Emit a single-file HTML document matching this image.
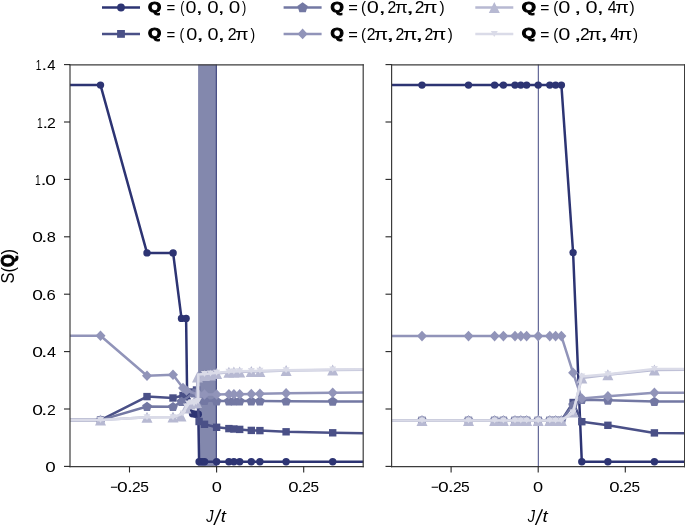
<!DOCTYPE html>
<html><head><meta charset="utf-8"><style>
html,body{margin:0;padding:0;background:#fff;width:685px;height:525px;overflow:hidden;}
svg{display:block;font-family:"Liberation Sans",sans-serif;will-change:transform;}
</style></head><body><svg width="685" height="525" viewBox="0 0 685 525"><defs><clipPath id="cl"><rect x="70" y="64.5" width="293.3" height="402"/></clipPath><clipPath id="cr"><rect x="391.5" y="64.5" width="293" height="402"/></clipPath></defs><rect x="198.1" y="64.5" width="18.4" height="402" fill="#2D3473" fill-opacity="0.59"/><line x1="216.3" y1="64.5" x2="216.3" y2="466.4" stroke="#2D3473" stroke-width="1"/><line x1="538.3" y1="64.5" x2="538.3" y2="466.4" stroke="#2D3473" stroke-width="1" stroke-opacity="0.9"/><g clip-path="url(#cl)"><polyline points="42.7,85.1 100.5,85.1 147.0,252.9 173.1,252.9 181.5,318.4 186.1,318.4 187.2,400.0 192.5,413.8 195.5,414.3 198.3,414.3 199.1,461.8 202.0,461.8 204.6,461.8 216.6,461.8 228.9,461.8 233.9,461.8 239.7,461.8 251.3,461.8 259.9,461.8 286.1,461.8 332.7,461.8 390.3,461.8" fill="none" stroke="#2D3473" stroke-width="2.5" stroke-linejoin="round"/><circle cx="100.5" cy="85.1" r="3.7" fill="#2D3473"/><circle cx="147.0" cy="252.9" r="3.7" fill="#2D3473"/><circle cx="173.1" cy="252.9" r="3.7" fill="#2D3473"/><circle cx="181.5" cy="318.4" r="3.7" fill="#2D3473"/><circle cx="186.1" cy="318.4" r="3.7" fill="#2D3473"/><circle cx="187.2" cy="400.0" r="3.7" fill="#2D3473"/><circle cx="192.5" cy="413.8" r="3.7" fill="#2D3473"/><circle cx="195.5" cy="414.3" r="3.7" fill="#2D3473"/><circle cx="198.3" cy="414.3" r="3.7" fill="#2D3473"/><circle cx="199.1" cy="461.8" r="3.7" fill="#2D3473"/><circle cx="202.0" cy="461.8" r="3.7" fill="#2D3473"/><circle cx="204.6" cy="461.8" r="3.7" fill="#2D3473"/><circle cx="216.6" cy="461.8" r="3.7" fill="#2D3473"/><circle cx="228.9" cy="461.8" r="3.7" fill="#2D3473"/><circle cx="233.9" cy="461.8" r="3.7" fill="#2D3473"/><circle cx="239.7" cy="461.8" r="3.7" fill="#2D3473"/><circle cx="251.3" cy="461.8" r="3.7" fill="#2D3473"/><circle cx="259.9" cy="461.8" r="3.7" fill="#2D3473"/><circle cx="286.1" cy="461.8" r="3.7" fill="#2D3473"/><circle cx="332.7" cy="461.8" r="3.7" fill="#2D3473"/><polyline points="42.7,420.1 100.5,420.1 147.0,396.6 173.0,398.0 183.0,395.5 190.0,392.0 196.5,390.0 199.1,421.5 204.5,424.3 216.6,427.3 228.9,428.6 233.9,429.0 239.7,429.4 251.3,430.4 259.9,430.6 286.1,431.8 332.7,432.8 390.3,433.4" fill="none" stroke="#4A5087" stroke-width="2.5" stroke-linejoin="round"/><rect x="96.8" y="416.4" width="7.4" height="7.4" fill="#4A5087"/><rect x="143.3" y="392.9" width="7.4" height="7.4" fill="#4A5087"/><rect x="169.3" y="394.3" width="7.4" height="7.4" fill="#4A5087"/><rect x="179.3" y="391.8" width="7.4" height="7.4" fill="#4A5087"/><rect x="186.3" y="388.3" width="7.4" height="7.4" fill="#4A5087"/><rect x="192.8" y="386.3" width="7.4" height="7.4" fill="#4A5087"/><rect x="195.4" y="417.8" width="7.4" height="7.4" fill="#4A5087"/><rect x="200.8" y="420.6" width="7.4" height="7.4" fill="#4A5087"/><rect x="212.9" y="423.6" width="7.4" height="7.4" fill="#4A5087"/><rect x="225.2" y="424.9" width="7.4" height="7.4" fill="#4A5087"/><rect x="230.2" y="425.3" width="7.4" height="7.4" fill="#4A5087"/><rect x="236.0" y="425.7" width="7.4" height="7.4" fill="#4A5087"/><rect x="247.6" y="426.7" width="7.4" height="7.4" fill="#4A5087"/><rect x="256.2" y="426.9" width="7.4" height="7.4" fill="#4A5087"/><rect x="282.4" y="428.1" width="7.4" height="7.4" fill="#4A5087"/><rect x="329.0" y="429.1" width="7.4" height="7.4" fill="#4A5087"/><polyline points="42.7,420.1 100.5,420.1 147.0,406.5 173.0,406.7 181.5,401.5 194.0,393.0 199.1,399.0 204.5,400.5 216.6,401.0 228.9,401.0 233.9,401.0 239.7,401.0 251.3,401.0 259.9,401.0 286.1,401.2 332.7,401.4 390.3,401.4" fill="none" stroke="#7378A3" stroke-width="2.5" stroke-linejoin="round"/><polygon points="100.5,415.3 105.4,418.8 103.5,424.5 97.5,424.5 95.6,418.8" fill="#7378A3"/><polygon points="147.0,401.7 151.9,405.2 150.0,410.9 144.0,410.9 142.1,405.2" fill="#7378A3"/><polygon points="173.0,401.9 177.9,405.4 176.0,411.1 170.0,411.1 168.1,405.4" fill="#7378A3"/><polygon points="181.5,396.7 186.4,400.2 184.5,405.9 178.5,405.9 176.6,400.2" fill="#7378A3"/><polygon points="194.0,388.2 198.9,391.7 197.0,397.4 191.0,397.4 189.1,391.7" fill="#7378A3"/><polygon points="199.1,394.2 204.0,397.7 202.1,403.4 196.1,403.4 194.2,397.7" fill="#7378A3"/><polygon points="204.5,395.7 209.4,399.2 207.5,404.9 201.5,404.9 199.6,399.2" fill="#7378A3"/><polygon points="216.6,396.2 221.5,399.7 219.6,405.4 213.6,405.4 211.7,399.7" fill="#7378A3"/><polygon points="228.9,396.2 233.8,399.7 231.9,405.4 225.9,405.4 224.0,399.7" fill="#7378A3"/><polygon points="233.9,396.2 238.8,399.7 236.9,405.4 230.9,405.4 229.0,399.7" fill="#7378A3"/><polygon points="239.7,396.2 244.6,399.7 242.7,405.4 236.7,405.4 234.8,399.7" fill="#7378A3"/><polygon points="251.3,396.2 256.2,399.7 254.3,405.4 248.3,405.4 246.4,399.7" fill="#7378A3"/><polygon points="259.9,396.2 264.8,399.7 262.9,405.4 256.9,405.4 255.0,399.7" fill="#7378A3"/><polygon points="286.1,396.4 291.0,399.9 289.1,405.6 283.1,405.6 281.2,399.9" fill="#7378A3"/><polygon points="332.7,396.6 337.6,400.1 335.7,405.8 329.7,405.8 327.8,400.1" fill="#7378A3"/><polyline points="42.7,335.7 100.5,335.7 147.0,375.7 173.0,374.8 183.0,388.0 186.5,390.5 199.1,395.0 204.5,394.5 216.6,394.5 228.9,394.3 233.9,394.3 239.7,394.2 251.3,394.0 259.9,393.8 286.1,393.2 332.7,392.7 390.3,392.3" fill="none" stroke="#9194B9" stroke-width="2.5" stroke-linejoin="round"/><polygon points="100.5,330.4 105.5,335.7 100.5,341.0 95.5,335.7" fill="#9194B9"/><polygon points="147.0,370.4 152.0,375.7 147.0,381.0 142.0,375.7" fill="#9194B9"/><polygon points="173.0,369.5 178.0,374.8 173.0,380.1 168.0,374.8" fill="#9194B9"/><polygon points="183.0,382.7 188.0,388.0 183.0,393.3 178.0,388.0" fill="#9194B9"/><polygon points="186.5,385.2 191.5,390.5 186.5,395.8 181.5,390.5" fill="#9194B9"/><polygon points="199.1,389.7 204.1,395.0 199.1,400.3 194.1,395.0" fill="#9194B9"/><polygon points="204.5,389.2 209.5,394.5 204.5,399.8 199.5,394.5" fill="#9194B9"/><polygon points="216.6,389.2 221.6,394.5 216.6,399.8 211.6,394.5" fill="#9194B9"/><polygon points="228.9,389.0 233.9,394.3 228.9,399.6 223.9,394.3" fill="#9194B9"/><polygon points="233.9,389.0 238.9,394.3 233.9,399.6 228.9,394.3" fill="#9194B9"/><polygon points="239.7,388.9 244.7,394.2 239.7,399.5 234.7,394.2" fill="#9194B9"/><polygon points="251.3,388.7 256.3,394.0 251.3,399.3 246.3,394.0" fill="#9194B9"/><polygon points="259.9,388.5 264.9,393.8 259.9,399.1 254.9,393.8" fill="#9194B9"/><polygon points="286.1,387.9 291.1,393.2 286.1,398.5 281.1,393.2" fill="#9194B9"/><polygon points="332.7,387.4 337.7,392.7 332.7,398.0 327.7,392.7" fill="#9194B9"/><polyline points="42.7,420.1 100.5,420.1 147.0,417.3 173.0,417.0 181.0,416.0 186.0,408.0 190.0,404.0 193.5,403.0 196.5,402.5 197.5,377.0 204.5,375.5 210.5,375.0 216.6,373.5 228.9,372.2 233.9,372.0 239.7,372.0 251.3,371.6 259.9,371.4 286.1,370.4 332.7,370.0 390.3,369.6" fill="none" stroke="#B7B9D2" stroke-width="2.5" stroke-linejoin="round"/><polygon points="100.5,414.6 106.0,425.6 95.0,425.6" fill="#B7B9D2"/><polygon points="147.0,411.8 152.5,422.8 141.5,422.8" fill="#B7B9D2"/><polygon points="173.0,411.5 178.5,422.5 167.5,422.5" fill="#B7B9D2"/><polygon points="181.0,410.5 186.5,421.5 175.5,421.5" fill="#B7B9D2"/><polygon points="186.0,402.5 191.5,413.5 180.5,413.5" fill="#B7B9D2"/><polygon points="190.0,398.5 195.5,409.5 184.5,409.5" fill="#B7B9D2"/><polygon points="193.5,397.5 199.0,408.5 188.0,408.5" fill="#B7B9D2"/><polygon points="196.5,397.0 202.0,408.0 191.0,408.0" fill="#B7B9D2"/><polygon points="197.5,371.5 203.0,382.5 192.0,382.5" fill="#B7B9D2"/><polygon points="204.5,370.0 210.0,381.0 199.0,381.0" fill="#B7B9D2"/><polygon points="210.5,369.5 216.0,380.5 205.0,380.5" fill="#B7B9D2"/><polygon points="216.6,368.0 222.1,379.0 211.1,379.0" fill="#B7B9D2"/><polygon points="228.9,366.7 234.4,377.7 223.4,377.7" fill="#B7B9D2"/><polygon points="233.9,366.5 239.4,377.5 228.4,377.5" fill="#B7B9D2"/><polygon points="239.7,366.5 245.2,377.5 234.2,377.5" fill="#B7B9D2"/><polygon points="251.3,366.1 256.8,377.1 245.8,377.1" fill="#B7B9D2"/><polygon points="259.9,365.9 265.4,376.9 254.4,376.9" fill="#B7B9D2"/><polygon points="286.1,364.9 291.6,375.9 280.6,375.9" fill="#B7B9D2"/><polygon points="332.7,364.5 338.2,375.5 327.2,375.5" fill="#B7B9D2"/><polyline points="42.7,420.1 100.5,420.1 147.0,417.3 173.0,417.3 183.0,413.5 186.5,406.5 188.5,403.5 191.0,402.5 194.0,403.5 196.5,402.0 198.3,401.0 198.3,374.5 204.5,374.0 210.5,373.5 216.6,372.8 228.9,371.8 233.9,371.5 239.7,371.3 251.3,371.0 259.9,370.7 286.1,370.3 332.7,369.6 390.3,369.0" fill="none" stroke="#DADBE8" stroke-width="2.5" stroke-linejoin="round"/><polygon points="97.0,417.1 104.0,417.1 100.5,423.1" fill="#DADBE8"/><polygon points="143.5,414.3 150.5,414.3 147.0,420.3" fill="#DADBE8"/><polygon points="169.5,414.3 176.5,414.3 173.0,420.3" fill="#DADBE8"/><polygon points="179.5,410.5 186.5,410.5 183.0,416.5" fill="#DADBE8"/><polygon points="183.0,403.5 190.0,403.5 186.5,409.5" fill="#DADBE8"/><polygon points="185.0,400.5 192.0,400.5 188.5,406.5" fill="#DADBE8"/><polygon points="187.5,399.5 194.5,399.5 191.0,405.5" fill="#DADBE8"/><polygon points="190.5,400.5 197.5,400.5 194.0,406.5" fill="#DADBE8"/><polygon points="193.0,399.0 200.0,399.0 196.5,405.0" fill="#DADBE8"/><polygon points="194.8,398.0 201.8,398.0 198.3,404.0" fill="#DADBE8"/><polygon points="201.0,371.0 208.0,371.0 204.5,377.0" fill="#DADBE8"/><polygon points="207.0,370.5 214.0,370.5 210.5,376.5" fill="#DADBE8"/><polygon points="213.1,369.8 220.1,369.8 216.6,375.8" fill="#DADBE8"/><polygon points="225.4,368.8 232.4,368.8 228.9,374.8" fill="#DADBE8"/><polygon points="230.4,368.5 237.4,368.5 233.9,374.5" fill="#DADBE8"/><polygon points="236.2,368.3 243.2,368.3 239.7,374.3" fill="#DADBE8"/><polygon points="247.8,368.0 254.8,368.0 251.3,374.0" fill="#DADBE8"/><polygon points="256.4,367.7 263.4,367.7 259.9,373.7" fill="#DADBE8"/><polygon points="282.6,367.3 289.6,367.3 286.1,373.3" fill="#DADBE8"/><polygon points="329.2,366.6 336.2,366.6 332.7,372.6" fill="#DADBE8"/></g><g clip-path="url(#cr)"><polyline points="364.0,85.1 422.0,85.1 468.5,85.1 494.6,85.1 503.4,85.1 515.0,85.1 520.8,85.1 526.6,85.1 538.2,85.1 549.8,85.1 555.6,85.1 561.4,85.1 573.1,252.6 581.8,461.8 607.9,461.8 654.4,461.8 712.5,461.8" fill="none" stroke="#2D3473" stroke-width="2.5" stroke-linejoin="round"/><circle cx="422.0" cy="85.1" r="3.7" fill="#2D3473"/><circle cx="468.5" cy="85.1" r="3.7" fill="#2D3473"/><circle cx="494.6" cy="85.1" r="3.7" fill="#2D3473"/><circle cx="503.4" cy="85.1" r="3.7" fill="#2D3473"/><circle cx="515.0" cy="85.1" r="3.7" fill="#2D3473"/><circle cx="520.8" cy="85.1" r="3.7" fill="#2D3473"/><circle cx="526.6" cy="85.1" r="3.7" fill="#2D3473"/><circle cx="538.2" cy="85.1" r="3.7" fill="#2D3473"/><circle cx="549.8" cy="85.1" r="3.7" fill="#2D3473"/><circle cx="555.6" cy="85.1" r="3.7" fill="#2D3473"/><circle cx="561.4" cy="85.1" r="3.7" fill="#2D3473"/><circle cx="573.1" cy="252.6" r="3.7" fill="#2D3473"/><circle cx="581.8" cy="461.8" r="3.7" fill="#2D3473"/><circle cx="607.9" cy="461.8" r="3.7" fill="#2D3473"/><circle cx="654.4" cy="461.8" r="3.7" fill="#2D3473"/><polyline points="364.0,420.4 422.0,420.4 468.5,420.4 494.6,420.4 503.4,420.4 515.0,420.4 520.8,420.4 526.6,420.4 538.2,420.4 549.8,420.4 555.6,420.4 561.4,420.4 573.1,402.5 581.8,421.7 607.9,425.3 654.4,432.9 712.5,433.6" fill="none" stroke="#4A5087" stroke-width="2.5" stroke-linejoin="round"/><rect x="418.3" y="416.7" width="7.4" height="7.4" fill="#4A5087"/><rect x="464.8" y="416.7" width="7.4" height="7.4" fill="#4A5087"/><rect x="490.9" y="416.7" width="7.4" height="7.4" fill="#4A5087"/><rect x="499.7" y="416.7" width="7.4" height="7.4" fill="#4A5087"/><rect x="511.3" y="416.7" width="7.4" height="7.4" fill="#4A5087"/><rect x="517.1" y="416.7" width="7.4" height="7.4" fill="#4A5087"/><rect x="522.9" y="416.7" width="7.4" height="7.4" fill="#4A5087"/><rect x="534.5" y="416.7" width="7.4" height="7.4" fill="#4A5087"/><rect x="546.1" y="416.7" width="7.4" height="7.4" fill="#4A5087"/><rect x="551.9" y="416.7" width="7.4" height="7.4" fill="#4A5087"/><rect x="557.7" y="416.7" width="7.4" height="7.4" fill="#4A5087"/><rect x="569.4" y="398.8" width="7.4" height="7.4" fill="#4A5087"/><rect x="578.1" y="418.0" width="7.4" height="7.4" fill="#4A5087"/><rect x="604.2" y="421.6" width="7.4" height="7.4" fill="#4A5087"/><rect x="650.7" y="429.2" width="7.4" height="7.4" fill="#4A5087"/><polyline points="364.0,420.4 422.0,420.4 468.5,420.4 494.6,420.4 503.4,420.4 515.0,420.4 520.8,420.4 526.6,420.4 538.2,420.4 549.8,420.4 555.6,420.4 561.4,420.4 573.1,405.0 581.8,399.7 607.9,400.3 654.4,401.6 712.5,401.2" fill="none" stroke="#7378A3" stroke-width="2.5" stroke-linejoin="round"/><polygon points="422.0,415.6 426.9,419.1 425.0,424.8 419.0,424.8 417.2,419.1" fill="#7378A3"/><polygon points="468.5,415.6 473.4,419.1 471.5,424.8 465.5,424.8 463.6,419.1" fill="#7378A3"/><polygon points="494.6,415.6 499.5,419.1 497.6,424.8 491.6,424.8 489.8,419.1" fill="#7378A3"/><polygon points="503.4,415.6 508.2,419.1 506.3,424.8 500.4,424.8 498.5,419.1" fill="#7378A3"/><polygon points="515.0,415.6 519.8,419.1 518.0,424.8 512.0,424.8 510.1,419.1" fill="#7378A3"/><polygon points="520.8,415.6 525.6,419.1 523.8,424.8 517.8,424.8 515.9,419.1" fill="#7378A3"/><polygon points="526.6,415.6 531.4,419.1 529.6,424.8 523.6,424.8 521.7,419.1" fill="#7378A3"/><polygon points="538.2,415.6 543.1,419.1 541.2,424.8 535.2,424.8 533.3,419.1" fill="#7378A3"/><polygon points="549.8,415.6 554.7,419.1 552.8,424.8 546.8,424.8 545.0,419.1" fill="#7378A3"/><polygon points="555.6,415.6 560.5,419.1 558.6,424.8 552.6,424.8 550.8,419.1" fill="#7378A3"/><polygon points="561.4,415.6 566.3,419.1 564.4,424.8 558.4,424.8 556.6,419.1" fill="#7378A3"/><polygon points="573.1,400.2 577.9,403.7 576.0,409.4 570.1,409.4 568.2,403.7" fill="#7378A3"/><polygon points="581.8,394.9 586.6,398.4 584.8,404.1 578.8,404.1 576.9,398.4" fill="#7378A3"/><polygon points="607.9,395.5 612.8,399.0 610.9,404.7 604.9,404.7 603.0,399.0" fill="#7378A3"/><polygon points="654.4,396.8 659.2,400.3 657.4,406.0 651.4,406.0 649.5,400.3" fill="#7378A3"/><polyline points="364.0,336.1 422.0,336.1 468.5,336.1 494.6,336.1 503.4,336.1 515.0,336.1 520.8,336.1 526.6,336.1 538.2,336.1 549.8,336.1 555.6,336.1 561.4,336.1 573.1,372.8 581.8,398.5 607.9,396.3 654.4,392.8 712.5,392.5" fill="none" stroke="#9194B9" stroke-width="2.5" stroke-linejoin="round"/><polygon points="422.0,330.8 427.0,336.1 422.0,341.4 417.0,336.1" fill="#9194B9"/><polygon points="468.5,330.8 473.5,336.1 468.5,341.4 463.5,336.1" fill="#9194B9"/><polygon points="494.6,330.8 499.6,336.1 494.6,341.4 489.6,336.1" fill="#9194B9"/><polygon points="503.4,330.8 508.4,336.1 503.4,341.4 498.4,336.1" fill="#9194B9"/><polygon points="515.0,330.8 520.0,336.1 515.0,341.4 510.0,336.1" fill="#9194B9"/><polygon points="520.8,330.8 525.8,336.1 520.8,341.4 515.8,336.1" fill="#9194B9"/><polygon points="526.6,330.8 531.6,336.1 526.6,341.4 521.6,336.1" fill="#9194B9"/><polygon points="538.2,330.8 543.2,336.1 538.2,341.4 533.2,336.1" fill="#9194B9"/><polygon points="549.8,330.8 554.8,336.1 549.8,341.4 544.8,336.1" fill="#9194B9"/><polygon points="555.6,330.8 560.6,336.1 555.6,341.4 550.6,336.1" fill="#9194B9"/><polygon points="561.4,330.8 566.4,336.1 561.4,341.4 556.4,336.1" fill="#9194B9"/><polygon points="573.1,367.5 578.1,372.8 573.1,378.1 568.1,372.8" fill="#9194B9"/><polygon points="581.8,393.2 586.8,398.5 581.8,403.8 576.8,398.5" fill="#9194B9"/><polygon points="607.9,391.0 612.9,396.3 607.9,401.6 602.9,396.3" fill="#9194B9"/><polygon points="654.4,387.5 659.4,392.8 654.4,398.1 649.4,392.8" fill="#9194B9"/><polyline points="364.0,420.4 422.0,420.4 468.5,420.4 494.6,420.4 503.4,420.4 515.0,420.4 520.8,420.4 526.6,420.4 538.2,420.4 549.8,420.4 555.6,420.4 561.4,420.4 573.1,412.0 581.8,378.0 607.9,374.7 654.4,370.0 712.5,369.5" fill="none" stroke="#B7B9D2" stroke-width="2.5" stroke-linejoin="round"/><polygon points="422.0,414.9 427.5,425.9 416.5,425.9" fill="#B7B9D2"/><polygon points="468.5,414.9 474.0,425.9 463.0,425.9" fill="#B7B9D2"/><polygon points="494.6,414.9 500.1,425.9 489.1,425.9" fill="#B7B9D2"/><polygon points="503.4,414.9 508.9,425.9 497.9,425.9" fill="#B7B9D2"/><polygon points="515.0,414.9 520.5,425.9 509.5,425.9" fill="#B7B9D2"/><polygon points="520.8,414.9 526.3,425.9 515.3,425.9" fill="#B7B9D2"/><polygon points="526.6,414.9 532.1,425.9 521.1,425.9" fill="#B7B9D2"/><polygon points="538.2,414.9 543.7,425.9 532.7,425.9" fill="#B7B9D2"/><polygon points="549.8,414.9 555.3,425.9 544.3,425.9" fill="#B7B9D2"/><polygon points="555.6,414.9 561.1,425.9 550.1,425.9" fill="#B7B9D2"/><polygon points="561.4,414.9 566.9,425.9 555.9,425.9" fill="#B7B9D2"/><polygon points="573.1,406.5 578.6,417.5 567.6,417.5" fill="#B7B9D2"/><polygon points="581.8,372.5 587.3,383.5 576.3,383.5" fill="#B7B9D2"/><polygon points="607.9,369.2 613.4,380.2 602.4,380.2" fill="#B7B9D2"/><polygon points="654.4,364.5 659.9,375.5 648.9,375.5" fill="#B7B9D2"/><polyline points="364.0,420.4 422.0,420.4 468.5,420.4 494.6,420.4 503.4,420.4 515.0,420.4 520.8,420.4 526.6,420.4 538.2,420.4 549.8,420.4 555.6,420.4 561.4,420.4 573.1,412.6 581.8,376.6 607.9,374.3 654.4,369.0 712.5,368.8" fill="none" stroke="#DADBE8" stroke-width="2.5" stroke-linejoin="round"/><polygon points="418.5,417.4 425.5,417.4 422.0,423.4" fill="#DADBE8"/><polygon points="465.0,417.4 472.0,417.4 468.5,423.4" fill="#DADBE8"/><polygon points="491.1,417.4 498.1,417.4 494.6,423.4" fill="#DADBE8"/><polygon points="499.9,417.4 506.9,417.4 503.4,423.4" fill="#DADBE8"/><polygon points="511.5,417.4 518.5,417.4 515.0,423.4" fill="#DADBE8"/><polygon points="517.3,417.4 524.3,417.4 520.8,423.4" fill="#DADBE8"/><polygon points="523.1,417.4 530.1,417.4 526.6,423.4" fill="#DADBE8"/><polygon points="534.7,417.4 541.7,417.4 538.2,423.4" fill="#DADBE8"/><polygon points="546.3,417.4 553.3,417.4 549.8,423.4" fill="#DADBE8"/><polygon points="552.1,417.4 559.1,417.4 555.6,423.4" fill="#DADBE8"/><polygon points="557.9,417.4 564.9,417.4 561.4,423.4" fill="#DADBE8"/><polygon points="569.6,409.6 576.6,409.6 573.1,415.6" fill="#DADBE8"/><polygon points="578.3,373.6 585.3,373.6 581.8,379.6" fill="#DADBE8"/><polygon points="604.4,371.3 611.4,371.3 607.9,377.3" fill="#DADBE8"/><polygon points="650.9,366.0 657.9,366.0 654.4,372.0" fill="#DADBE8"/></g><line x1="69.4" y1="64.8" x2="363.8" y2="64.8" stroke="#3c3c3c" stroke-width="1.2"/><line x1="69.4" y1="466.6" x2="363.8" y2="466.6" stroke="#3c3c3c" stroke-width="1.2"/><line x1="70.0" y1="64.2" x2="70.0" y2="467.2" stroke="#3c3c3c" stroke-width="1.2"/><line x1="363.2" y1="64.2" x2="363.2" y2="467.2" stroke="#3c3c3c" stroke-width="1.2"/><line x1="64.0" y1="466.4" x2="70.0" y2="466.4" stroke="#262626" stroke-width="1.1"/><line x1="64.0" y1="409.0" x2="70.0" y2="409.0" stroke="#262626" stroke-width="1.1"/><line x1="64.0" y1="351.6" x2="70.0" y2="351.6" stroke="#262626" stroke-width="1.1"/><line x1="64.0" y1="294.2" x2="70.0" y2="294.2" stroke="#262626" stroke-width="1.1"/><line x1="64.0" y1="236.8" x2="70.0" y2="236.8" stroke="#262626" stroke-width="1.1"/><line x1="64.0" y1="179.4" x2="70.0" y2="179.4" stroke="#262626" stroke-width="1.1"/><line x1="64.0" y1="122.0" x2="70.0" y2="122.0" stroke="#262626" stroke-width="1.1"/><line x1="64.0" y1="64.6" x2="70.0" y2="64.6" stroke="#262626" stroke-width="1.1"/><line x1="391.0" y1="64.8" x2="685.2" y2="64.8" stroke="#3c3c3c" stroke-width="1.2"/><line x1="391.0" y1="466.6" x2="685.2" y2="466.6" stroke="#3c3c3c" stroke-width="1.2"/><line x1="391.6" y1="64.2" x2="391.6" y2="467.2" stroke="#3c3c3c" stroke-width="1.2"/><line x1="684.6" y1="64.2" x2="684.6" y2="467.2" stroke="#3c3c3c" stroke-width="1.2"/><line x1="385.5" y1="466.4" x2="391.5" y2="466.4" stroke="#262626" stroke-width="1.1"/><line x1="385.5" y1="409.0" x2="391.5" y2="409.0" stroke="#262626" stroke-width="1.1"/><line x1="385.5" y1="351.6" x2="391.5" y2="351.6" stroke="#262626" stroke-width="1.1"/><line x1="385.5" y1="294.2" x2="391.5" y2="294.2" stroke="#262626" stroke-width="1.1"/><line x1="385.5" y1="236.8" x2="391.5" y2="236.8" stroke="#262626" stroke-width="1.1"/><line x1="385.5" y1="179.4" x2="391.5" y2="179.4" stroke="#262626" stroke-width="1.1"/><line x1="385.5" y1="122.0" x2="391.5" y2="122.0" stroke="#262626" stroke-width="1.1"/><line x1="385.5" y1="64.6" x2="391.5" y2="64.6" stroke="#262626" stroke-width="1.1"/><line x1="129.5" y1="466.5" x2="129.5" y2="472.5" stroke="#262626" stroke-width="1.1"/><line x1="216.6" y1="466.5" x2="216.6" y2="472.5" stroke="#262626" stroke-width="1.1"/><line x1="303.7" y1="466.5" x2="303.7" y2="472.5" stroke="#262626" stroke-width="1.1"/><line x1="451.1" y1="466.5" x2="451.1" y2="472.5" stroke="#262626" stroke-width="1.1"/><line x1="538.2" y1="466.5" x2="538.2" y2="472.5" stroke="#262626" stroke-width="1.1"/><line x1="625.3" y1="466.5" x2="625.3" y2="472.5" stroke="#262626" stroke-width="1.1"/><g font-family="Liberation Sans, sans-serif" fill="#000"><text id="lq00" x="148.00" y="11.8" font-size="15" textLength="13.26" lengthAdjust="spacingAndGlyphs" font-weight="bold" stroke="#000" stroke-width="1.0">Q</text><text id="lq01" x="148.00" y="38.2" font-size="15" textLength="13.26" lengthAdjust="spacingAndGlyphs" font-weight="bold" stroke="#000" stroke-width="1.0">Q</text><text id="lq10" x="330.40" y="11.8" font-size="15" textLength="13.26" lengthAdjust="spacingAndGlyphs" font-weight="bold" stroke="#000" stroke-width="1.0">Q</text><text id="lq11" x="330.40" y="38.2" font-size="15" textLength="13.26" lengthAdjust="spacingAndGlyphs" font-weight="bold" stroke="#000" stroke-width="1.0">Q</text><text id="lq20" x="521.80" y="11.8" font-size="15" textLength="14.18" lengthAdjust="spacingAndGlyphs" font-weight="bold" stroke="#000" stroke-width="1.0">Q</text><text id="lq21" x="521.80" y="38.2" font-size="15" textLength="14.18" lengthAdjust="spacingAndGlyphs" font-weight="bold" stroke="#000" stroke-width="1.0">Q</text><text transform="translate(35.84,70.10) scale(0.665,1)" font-size="15" >1</text><text transform="translate(41.38,70.10) scale(1.330,1)" font-size="15" >.</text><text transform="translate(47.26,70.10) scale(0.992,1)" font-size="15" >4</text><text transform="translate(36.92,127.50) scale(0.680,1)" font-size="15" >1</text><text transform="translate(42.48,127.50) scale(1.330,1)" font-size="15" >.</text><text transform="translate(47.11,127.50) scale(1.054,1)" font-size="15" >2</text><text transform="translate(35.02,184.90) scale(0.680,1)" font-size="15" >1</text><text transform="translate(40.39,184.90) scale(1.470,1)" font-size="15" >.</text><text transform="translate(45.26,184.90) scale(1.269,1)" font-size="15" >0</text><text transform="translate(32.35,242.30) scale(1.283,1)" font-size="15" >0</text><text transform="translate(40.99,242.30) scale(1.540,1)" font-size="15" >.</text><text transform="translate(46.69,242.30) scale(1.094,1)" font-size="15" >8</text><text transform="translate(32.35,299.70) scale(1.283,1)" font-size="15" >0</text><text transform="translate(40.99,299.70) scale(1.540,1)" font-size="15" >.</text><text transform="translate(46.55,299.70) scale(1.112,1)" font-size="15" >6</text><text transform="translate(32.35,357.10) scale(1.283,1)" font-size="15" >0</text><text transform="translate(40.99,357.10) scale(1.540,1)" font-size="15" >.</text><text transform="translate(47.03,357.10) scale(1.085,1)" font-size="15" >4</text><text transform="translate(32.35,414.50) scale(1.283,1)" font-size="15" >0</text><text transform="translate(40.99,414.50) scale(1.540,1)" font-size="15" >.</text><text transform="translate(47.11,414.50) scale(1.054,1)" font-size="15" >2</text><text transform="translate(45.26,471.90) scale(1.255,1)" font-size="15" >0</text><text transform="translate(110.15,492.20) scale(0.878,1)" font-size="15" >−</text><text transform="translate(117.05,492.20) scale(1.283,1)" font-size="15" >0</text><text transform="translate(126.69,492.20) scale(1.540,1)" font-size="15" >.</text><text transform="translate(132.02,492.20) scale(1.039,1)" font-size="15" >2</text><text transform="translate(140.18,492.20) scale(1.041,1)" font-size="15" >5</text><text transform="translate(211.79,492.20) scale(1.213,1)" font-size="15" >0</text><text transform="translate(288.17,492.20) scale(1.241,1)" font-size="15" >0</text><text transform="translate(296.89,492.20) scale(1.540,1)" font-size="15" >.</text><text transform="translate(302.22,492.20) scale(1.039,1)" font-size="15" >2</text><text transform="translate(310.38,492.20) scale(1.026,1)" font-size="15" >5</text><text transform="translate(431.05,492.20) scale(0.878,1)" font-size="15" >−</text><text transform="translate(437.95,492.20) scale(1.283,1)" font-size="15" >0</text><text transform="translate(447.59,492.20) scale(1.540,1)" font-size="15" >.</text><text transform="translate(452.92,492.20) scale(1.039,1)" font-size="15" >2</text><text transform="translate(461.08,492.20) scale(1.041,1)" font-size="15" >5</text><text transform="translate(532.99,492.20) scale(1.213,1)" font-size="15" >0</text><text transform="translate(609.27,492.20) scale(1.241,1)" font-size="15" >0</text><text transform="translate(617.99,492.20) scale(1.540,1)" font-size="15" >.</text><text transform="translate(623.32,492.20) scale(1.039,1)" font-size="15" >2</text><text transform="translate(631.48,492.20) scale(1.026,1)" font-size="15" >5</text><text transform="translate(206.24,522.20) scale(0.853,1)" font-size="17" font-style="italic" >J</text><text transform="translate(220.85,522.20) scale(1.101,1)" font-size="17" font-style="italic" >t</text><line x1="213.8" y1="525.5" x2="220.8" y2="509.2" stroke="#000" stroke-width="1.45"/><text transform="translate(527.84,522.20) scale(0.853,1)" font-size="17" font-style="italic" >J</text><text transform="translate(542.45,522.20) scale(1.101,1)" font-size="17" font-style="italic" >t</text><line x1="535.4" y1="525.5" x2="542.4" y2="509.2" stroke="#000" stroke-width="1.45"/><text transform="translate(166.47,13.30) scale(0.884,1)" font-size="17" >=</text><text transform="translate(180.23,13.30) scale(0.732,1)" font-size="17" >(</text><text transform="translate(185.53,13.30) scale(1.157,1)" font-size="17" >0</text><text transform="translate(195.53,13.30) scale(1.618,1)" font-size="17" >,</text><text transform="translate(207.20,13.30) scale(1.206,1)" font-size="17" >0</text><text transform="translate(217.42,13.30) scale(1.558,1)" font-size="17" >,</text><text transform="translate(228.79,13.30) scale(1.218,1)" font-size="17" >0</text><text transform="translate(241.92,13.30) scale(0.754,1)" font-size="17" >)</text><text transform="translate(166.57,39.70) scale(0.884,1)" font-size="17" >=</text><text transform="translate(179.53,39.70) scale(0.821,1)" font-size="17" >(</text><text transform="translate(186.22,39.70) scale(1.169,1)" font-size="17" >0</text><text transform="translate(196.05,39.70) scale(1.738,1)" font-size="17" >,</text><text transform="translate(207.42,39.70) scale(1.169,1)" font-size="17" >0</text><text transform="translate(217.25,39.70) scale(1.738,1)" font-size="17" >,</text><text transform="translate(227.79,39.70) scale(0.943,1)" font-size="17" >2</text><text transform="translate(235.16,39.70) scale(1.133,1)" font-size="17" >π</text><text transform="translate(250.42,39.70) scale(0.821,1)" font-size="17" >)</text><text transform="translate(348.20,13.30) scale(0.969,1)" font-size="17" >=</text><text transform="translate(360.96,13.30) scale(0.887,1)" font-size="17" >(</text><text transform="translate(366.65,13.30) scale(1.280,1)" font-size="17" >0</text><text transform="translate(378.14,13.30) scale(1.678,1)" font-size="17" >,</text><text transform="translate(387.61,13.30) scale(0.930,1)" font-size="17" >2</text><text transform="translate(394.89,13.30) scale(1.085,1)" font-size="17" >π</text><text transform="translate(405.47,13.30) scale(1.918,1)" font-size="17" >,</text><text transform="translate(414.82,13.30) scale(1.033,1)" font-size="17" >2</text><text transform="translate(422.89,13.30) scale(1.240,1)" font-size="17" >π</text><text transform="translate(439.61,13.30) scale(0.910,1)" font-size="17" >)</text><text transform="translate(348.20,39.70) scale(0.969,1)" font-size="17" >=</text><text transform="translate(360.96,39.70) scale(0.887,1)" font-size="17" >(</text><text transform="translate(366.71,39.70) scale(0.930,1)" font-size="17" >2</text><text transform="translate(373.91,39.70) scale(1.201,1)" font-size="17" >π</text><text transform="translate(385.77,39.70) scale(1.918,1)" font-size="17" >,</text><text transform="translate(395.61,39.70) scale(0.930,1)" font-size="17" >2</text><text transform="translate(402.78,39.70) scale(1.249,1)" font-size="17" >π</text><text transform="translate(414.67,39.70) scale(1.918,1)" font-size="17" >,</text><text transform="translate(424.51,39.70) scale(0.930,1)" font-size="17" >2</text><text transform="translate(431.68,39.70) scale(1.249,1)" font-size="17" >π</text><text transform="translate(447.71,39.70) scale(0.887,1)" font-size="17" >)</text><text transform="translate(540.34,13.30) scale(0.920,1)" font-size="17" >=</text><text transform="translate(553.36,13.30) scale(0.887,1)" font-size="17" >(</text><text transform="translate(558.25,13.30) scale(1.280,1)" font-size="17" >0</text><text transform="translate(573.84,13.30) scale(1.678,1)" font-size="17" >,</text><text transform="translate(585.55,13.30) scale(1.280,1)" font-size="17" >0</text><text transform="translate(596.43,13.30) scale(1.618,1)" font-size="17" >,</text><text transform="translate(607.74,13.30) scale(0.934,1)" font-size="17" >4</text><text transform="translate(615.34,13.30) scale(1.162,1)" font-size="17" >π</text><text transform="translate(629.61,13.30) scale(0.910,1)" font-size="17" >)</text><text transform="translate(540.34,39.70) scale(0.920,1)" font-size="17" >=</text><text transform="translate(553.36,39.70) scale(0.887,1)" font-size="17" >(</text><text transform="translate(558.25,39.70) scale(1.280,1)" font-size="17" >0</text><text transform="translate(573.84,39.70) scale(1.678,1)" font-size="17" >,</text><text transform="translate(579.92,39.70) scale(1.033,1)" font-size="17" >2</text><text transform="translate(588.04,39.70) scale(1.162,1)" font-size="17" >π</text><text transform="translate(599.38,39.70) scale(1.978,1)" font-size="17" >,</text><text transform="translate(610.14,39.70) scale(0.934,1)" font-size="17" >4</text><text transform="translate(617.68,39.70) scale(1.249,1)" font-size="17" >π</text><text transform="translate(632.91,39.70) scale(0.887,1)" font-size="17" >)</text><text transform="translate(13.5,266.2) rotate(-90)" font-size="18" text-anchor="middle" textLength="34.5" lengthAdjust="spacingAndGlyphs">S(<tspan font-weight="bold" stroke="#000" stroke-width="0.9">Q</tspan>)</text></g><line x1="102.0" y1="7.5" x2="140.0" y2="7.5" stroke="#2D3473" stroke-width="2.5"/><circle cx="121.0" cy="7.5" r="3.9" fill="#2D3473"/><line x1="102.0" y1="33.9" x2="140.0" y2="33.9" stroke="#4A5087" stroke-width="2.5"/><rect x="117.1" y="30.0" width="7.8" height="7.8" fill="#4A5087"/><line x1="283.6" y1="7.5" x2="321.6" y2="7.5" stroke="#7378A3" stroke-width="2.5"/><polygon points="302.6,2.3 307.8,6.1 305.8,12.2 299.4,12.2 297.4,6.1" fill="#7378A3"/><line x1="283.6" y1="33.9" x2="321.6" y2="33.9" stroke="#9194B9" stroke-width="2.5"/><polygon points="302.6,28.6 307.6,33.9 302.6,39.2 297.6,33.9" fill="#9194B9"/><line x1="475.3" y1="7.5" x2="513.3" y2="7.5" stroke="#B7B9D2" stroke-width="2.5"/><polygon points="494.3,2.0 499.8,13.0 488.8,13.0" fill="#B7B9D2"/><line x1="475.3" y1="33.9" x2="513.3" y2="33.9" stroke="#DADBE8" stroke-width="2.5"/><polygon points="490.8,30.9 497.8,30.9 494.3,36.9" fill="#DADBE8"/></svg></body></html>
